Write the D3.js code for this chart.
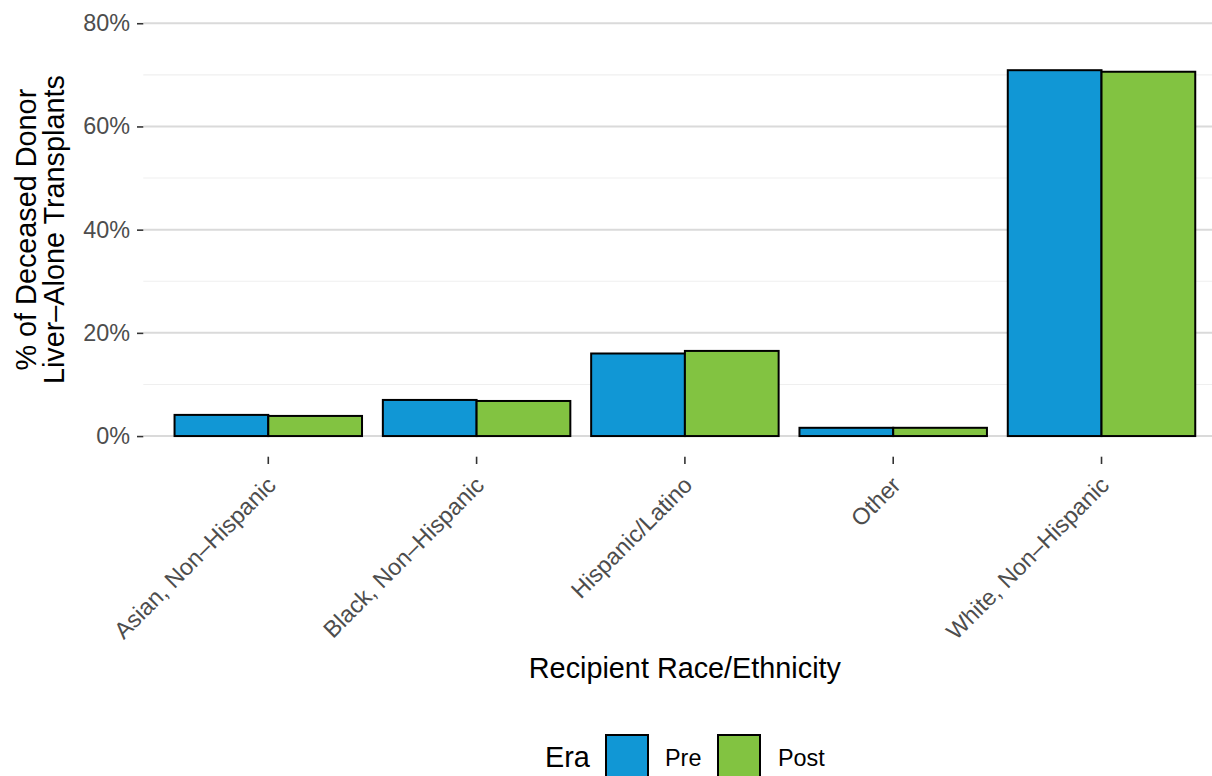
<!DOCTYPE html>
<html>
<head>
<meta charset="utf-8">
<script src="https://cdn.jsdelivr.net/npm/d3@7"></script>
<style>
  html, body { margin: 0; padding: 0; background: #ffffff; }
  svg { display: block; font-family: "Liberation Sans", Arial, Helvetica, sans-serif; }
</style>
</head>
<body>
<svg id="chart" width="1212" height="776"></svg>
<script>
// ---- data ----
const categories = ["Asian, Non\u2013Hispanic", "Black, Non\u2013Hispanic", "Hispanic/Latino", "Other", "White, Non\u2013Hispanic"];
const eras = ["Pre", "Post"];
const preValues = [4.1, 7.0, 16.0, 1.6, 70.9];
const postValues = [3.9, 6.8, 16.5, 1.6, 70.6];
const yTicks = [0, 20, 40, 60, 80];
const yMinorTicks = [10, 30, 50, 70];
const eraColors = ["#1197D5", "#82C341"];
const xTitle = "Recipient Race/Ethnicity";
const yTitleLines = ["% of Deceased Donor", "Liver\u2013Alone Transplants"];
const legendTitle = "Era";

// ---- layout ----
const W = 1212, H = 776;
const panel = { left: 143.3, right: 1226.5, top: 2.6, bottom: 456.7 };
const tickFont = 23.4, titleFont = 28.8;

const svg = d3.select("#chart");

const x0 = d3.scaleBand().domain(categories).range([panel.left, panel.right])
  .paddingInner(0.1).paddingOuter(0.15);
const x1 = d3.scaleBand().domain(eras).range([0, x0.bandwidth()]).padding(0);
const y = d3.scaleLinear().domain([-4, 84]).range([panel.bottom, panel.top]);
const color = d3.scaleOrdinal().domain(eras).range(eraColors);

const rows = categories.map((c, i) => ({ cat: c, values: [
  { era: "Pre", v: preValues[i] }, { era: "Post", v: postValues[i] } ] }));

// grid
const grid = svg.append("g");
grid.selectAll("line.minor").data(yMinorTicks).join("line")
  .attr("x1", panel.left).attr("x2", W)
  .attr("y1", d => y(d)).attr("y2", d => y(d))
  .attr("stroke", "#efefef").attr("stroke-width", 1.1);
grid.selectAll("line.major").data(yTicks).join("line")
  .attr("x1", panel.left).attr("x2", W)
  .attr("y1", d => y(d)).attr("y2", d => y(d))
  .attr("stroke", "#dadada").attr("stroke-width", 2);

// bars
const gBars = svg.append("g");
gBars.selectAll("g").data(rows).join("g")
  .attr("transform", d => `translate(${x0(d.cat)},0)`)
  .selectAll("rect").data(d => d.values).join("rect")
  .attr("x", d => x1(d.era))
  .attr("width", x1.bandwidth())
  .attr("y", d => y(d.v))
  .attr("height", d => y(0) - y(d.v))
  .attr("fill", d => color(d.era))
  .attr("stroke", "#000").attr("stroke-width", 2);

// y axis
const yAxis = svg.append("g").attr("transform", `translate(${panel.left},0)`)
  .call(d3.axisLeft(y).tickValues(yTicks).tickFormat(d => d + "%").tickSize(6.3).tickPadding(7));
yAxis.select(".domain").remove();
yAxis.selectAll(".tick line").attr("stroke", "#333").attr("stroke-width", 1.6);
yAxis.selectAll(".tick text").attr("fill", "#4d4d4d").attr("font-size", tickFont)
  .attr("font-family", "Liberation Sans, Arial, sans-serif");

// x axis
const xAxis = svg.append("g").attr("transform", `translate(0,${panel.bottom})`)
  .call(d3.axisBottom(x0).tickSize(7.3).tickPadding(0));
xAxis.select(".domain").remove();
xAxis.selectAll(".tick line").attr("stroke", "#333").attr("stroke-width", 1.6);
xAxis.selectAll(".tick text")
  .attr("fill", "#4d4d4d").attr("font-size", tickFont)
  .attr("font-family", "Liberation Sans, Arial, sans-serif")
  .attr("text-anchor", "end")
  .attr("y", 0).attr("dy", "0.72em")
  .attr("transform", "translate(-3,18) rotate(-45)");

// x title
svg.append("text")
  .attr("x", (panel.left + panel.right) / 2).attr("y", 678)
  .attr("text-anchor", "middle").attr("font-size", titleFont).attr("fill", "#000")
  .text(xTitle);

// y title
const yt = svg.append("text")
  .attr("transform", `translate(0,${(panel.top + panel.bottom) / 2}) rotate(-90)`)
  .attr("text-anchor", "middle").attr("font-size", titleFont).attr("fill", "#000");
yt.selectAll("tspan").data(yTitleLines).join("tspan")
  .attr("x", 0).attr("y", (d, i) => 36 + i * 28)
  .text(d => d);

// legend
const legend = svg.append("g");
legend.append("text").attr("x", 545).attr("y", 766.5)
  .attr("font-size", titleFont).attr("fill", "#000").text(legendTitle);
const keyX = [606, 718];
const labX = [665, 778];
eras.forEach((e, i) => {
  legend.append("rect").attr("x", keyX[i]).attr("y", 735)
    .attr("width", 42).attr("height", 42)
    .attr("fill", color(e)).attr("stroke", "#000").attr("stroke-width", 2);
  legend.append("text").attr("x", labX[i]).attr("y", 765.5)
    .attr("font-size", tickFont).attr("fill", "#000").text(e);
});
</script>
</body>
</html>
